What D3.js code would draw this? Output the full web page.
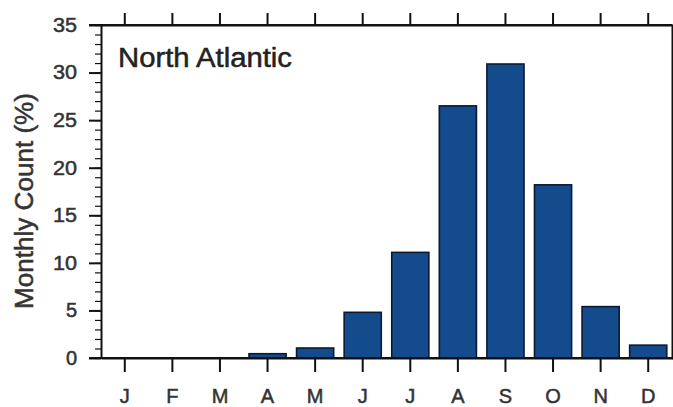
<!DOCTYPE html>
<html>
<head>
<meta charset="utf-8">
<script src="https://cdn.jsdelivr.net/npm/d3@7"></script>
<style>
  html, body { margin: 0; padding: 0; background: #fff; }
  svg { display: block; font-family: 'Liberation Sans', Arial, Helvetica, sans-serif; }
</style>
</head>
<body>
<div id="chart"></div>
<script>
const months = ['J', 'F', 'M', 'A', 'M', 'J', 'J', 'A', 'S', 'O', 'N', 'D'];
const monthlyCount = [0, 0, 0, 0.45, 1.05, 4.8, 11.1, 26.5, 30.9, 18.2, 5.4, 1.35];
const yMajorTicks = [0, 5, 10, 15, 20, 25, 30, 35];
const yMinorTicks = d3.range(0, 36);

const totalW = 673, totalH = 407;
const plot = { left: 101, right: 672, top: 25, bottom: 358 };

const svg = d3.select('#chart').append('svg')
  .attr('width', totalW).attr('height', totalH);

const idx = months.map((m, i) => i);
const x = d3.scaleBand().domain(idx).range([plot.left, plot.right]).padding(0);
const y = d3.scaleLinear().domain([0, 35]).range([plot.bottom, plot.top]);

const barW = x.bandwidth() * 0.78;

// Bars
svg.append('g').selectAll('rect')
  .data(monthlyCount).enter().append('rect')
  .attr('x', (d, i) => x(i) + (x.bandwidth() - barW) / 2)
  .attr('width', barW)
  .attr('y', d => y(d))
  .attr('height', d => y(0) - y(d))
  .attr('fill', '#134b8c')
  .attr('stroke', '#0a1a33')
  .attr('stroke-width', d => d > 0 ? 1.6 : 0);

function style(ax) {
  ax.selectAll('line, path').attr('stroke', '#111').attr('stroke-width', 2);
  ax.selectAll('text')
    .attr('fill', '#333').attr('stroke', '#333').attr('stroke-width', 0.5)
    .attr('font-family', "'Liberation Sans', Arial, sans-serif");
}

// Left minor ticks
const yMinor = svg.append('g').attr('transform', `translate(${plot.left},0)`)
  .call(d3.axisLeft(y).tickValues(yMinorTicks).tickSize(6).tickFormat(''));
yMinor.select('.domain').remove();
yMinor.selectAll('line').attr('stroke', '#111').attr('stroke-width', 1.2);

// Left major ticks
const yAxis = svg.append('g').attr('transform', `translate(${plot.left},0)`)
  .call(d3.axisLeft(y).tickValues(yMajorTicks).tickSize(12).tickSizeOuter(0).tickPadding(12));
style(yAxis);
yAxis.selectAll('text').attr('font-size', '20px').attr('textLength', 24).attr('lengthAdjust', 'spacingAndGlyphs');
yAxis.selectAll('text').filter(d => d < 10).attr('textLength', null);

// Bottom axis
const xAxis = svg.append('g').attr('transform', `translate(0,${plot.bottom})`)
  .call(d3.axisBottom(x).tickSize(14).tickSizeOuter(0).tickFormat(i => months[i]));
style(xAxis);
xAxis.selectAll('text').attr('font-size', '20px').attr('y', 45).attr('dy', 0);

// Top axis
const xTop = svg.append('g').attr('transform', `translate(0,${plot.top})`)
  .call(d3.axisTop(x).tickSize(12).tickSizeOuter(0).tickFormat(''));
style(xTop);

// Right frame
const yRight = svg.append('g').attr('transform', `translate(${plot.right},0)`)
  .call(d3.axisRight(y).tickValues(yMajorTicks).tickSize(12).tickSizeOuter(0).tickFormat(''));
style(yRight);

// Extend top/bottom frame lines to meet the left tick marks
svg.append('line')
  .attr('x1', plot.left - 12).attr('x2', plot.right)
  .attr('y1', y(35)).attr('y2', y(35))
  .attr('stroke', '#111').attr('stroke-width', 2);
svg.append('line')
  .attr('x1', plot.left - 12).attr('x2', plot.right)
  .attr('y1', y(0)).attr('y2', y(0))
  .attr('stroke', '#111').attr('stroke-width', 2);

// Panel title
svg.append('text')
  .attr('x', 118).attr('y', 67)
  .attr('fill', '#222').attr('stroke', '#222').attr('stroke-width', 0.5)
  .attr('font-size', '27px')
  .attr('textLength', 174).attr('lengthAdjust', 'spacingAndGlyphs')
  .text('North Atlantic');

// Y axis label
svg.append('text')
  .attr('transform', `translate(33,201) rotate(-90)`)
  .attr('text-anchor', 'middle')
  .attr('fill', '#333').attr('stroke', '#333').attr('stroke-width', 0.5)
  .attr('font-size', '25px')
  .attr('textLength', 216).attr('lengthAdjust', 'spacingAndGlyphs')
  .text('Monthly Count (%)');
</script>
</body>
</html>
